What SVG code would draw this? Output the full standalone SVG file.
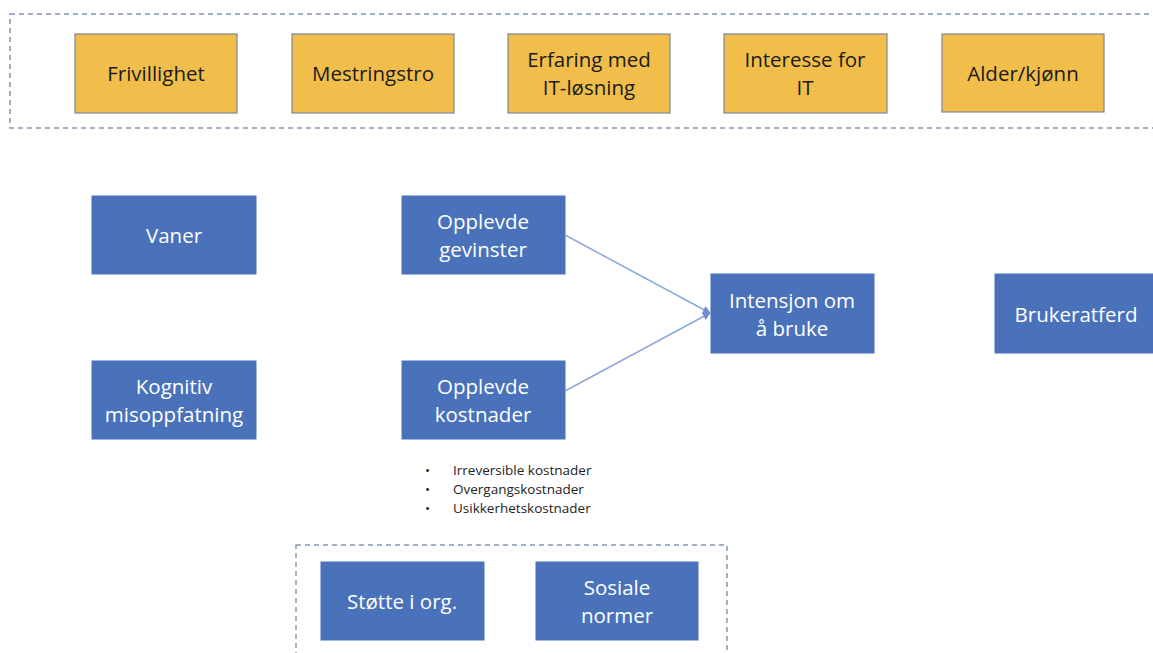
<svg xmlns="http://www.w3.org/2000/svg" width="1153" height="653" viewBox="0 0 1153 653">
<style>
.y{fill:#F1BE4B;stroke:#7F8694;stroke-width:1.2}
.b{fill:#4A72BA;stroke:#4A72BA;stroke-width:1}
.ty{font-family:"Open Sans","Liberation Sans",sans-serif;font-size:20.5px;fill:#1a1a1a;text-anchor:middle}
.tb{font-family:"Open Sans","Liberation Sans",sans-serif;font-size:20.5px;fill:#ffffff;text-anchor:middle}
.dash{fill:none;stroke:#8496B8;stroke-width:1.5;stroke-dasharray:5 4}
.c{stroke:#8EA9DA;stroke-width:1.6;fill:none}
.bl{font-family:"Open Sans","Liberation Sans",sans-serif;font-size:13.5px;fill:#222}
</style>
<defs>
<marker id="ah" viewBox="0 0 10 10" refX="9" refY="5" markerWidth="5" markerHeight="5" orient="auto">
<path d="M0,0 L10,5 L0,10 z" fill="#6E8FCF"/>
</marker>
</defs>
<rect width="1153" height="653" fill="#ffffff"/>
<g id="group-top"><rect class="dash" x="10" y="14" width="1160" height="114"/></g>
<g id="group-bottom"><rect class="dash" x="296" y="545" width="431" height="120"/></g>
<g id="frivillighet"><rect class="y" x="75" y="34" width="162" height="79"/><text class="ty" x="156" y="81">Frivillighet</text></g>
<g id="mestringstro"><rect class="y" x="292" y="34" width="162" height="79"/><text class="ty" x="373" y="81">Mestringstro</text></g>
<g id="erfaring"><rect class="y" x="508" y="34" width="162" height="79"/><text class="ty" x="589" y="67">Erfaring med</text><text class="ty" x="589" y="95">IT-løsning</text></g>
<g id="interesse"><rect class="y" x="724" y="34" width="163" height="79"/><text class="ty" x="805" y="67">Interesse for</text><text class="ty" x="805" y="95">IT</text></g>
<g id="alder"><rect class="y" x="942" y="34" width="162" height="78"/><text class="ty" x="1023" y="81">Alder/kjønn</text></g>
<g id="vaner"><rect class="b" x="92" y="196" width="164" height="78"/><text class="tb" x="174" y="243">Vaner</text></g>
<g id="kognitiv"><rect class="b" x="92" y="361" width="164" height="78"/><text class="tb" x="174" y="394">Kognitiv</text><text class="tb" x="174" y="422">misoppfatning</text></g>
<g id="gevinster"><rect class="b" x="402" y="196" width="163" height="78"/><text class="tb" x="483" y="229">Opplevde</text><text class="tb" x="483" y="257">gevinster</text></g>
<g id="kostnader"><rect class="b" x="402" y="361" width="163" height="78"/><text class="tb" x="483" y="394">Opplevde</text><text class="tb" x="483" y="422">kostnader</text></g>
<g id="intensjon"><rect class="b" x="711" y="274" width="163" height="79"/><text class="tb" x="792" y="308">Intensjon om</text><text class="tb" x="792" y="336">å bruke</text></g>
<g id="brukeratferd"><rect class="b" x="995" y="274" width="170" height="79"/><text class="tb" x="1076" y="322">Brukeratferd</text></g>
<g id="stotte"><rect class="b" x="321" y="562" width="163" height="78"/><text class="tb" x="402" y="609">Støtte i org.</text></g>
<g id="sosiale"><rect class="b" x="536" y="562" width="162" height="78"/><text class="tb" x="617" y="595">Sosiale</text><text class="tb" x="617" y="623">normer</text></g>
<g id="bullets">
<text class="bl" x="425" y="475">•</text><text class="bl" x="453" y="475">Irreversible kostnader</text>
<text class="bl" x="425" y="494">•</text><text class="bl" x="453" y="494">Overgangskostnader</text>
<text class="bl" x="425" y="513">•</text><text class="bl" x="453" y="513">Usikkerhetskostnader</text>
</g>
<g id="connectors">
<line class="c" x1="565" y1="235" x2="710" y2="313" marker-end="url(#ah)"/>
<line class="c" x1="565" y1="391" x2="710" y2="313" marker-end="url(#ah)"/>
</g>
</svg>
